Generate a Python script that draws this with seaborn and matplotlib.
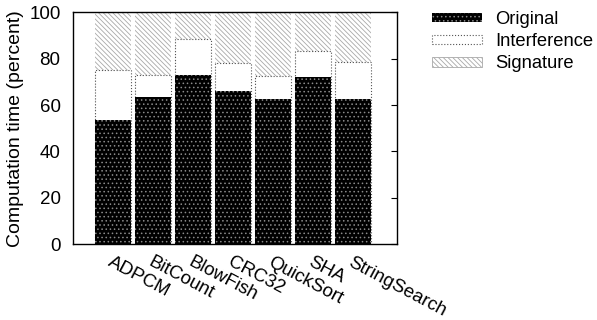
import matplotlib
matplotlib.use("Agg")
import matplotlib.pyplot as plt
import matplotlib.patches as mpatches
import pandas as pd
import seaborn as sns

# benchmark names and stacked shares (percent of computation time)
benchmarks = ["ADPCM", "BitCount", "BlowFish", "CRC32", "QuickSort", "SHA", "StringSearch"]
original = [53.6, 63.4, 73.1, 66.1, 62.5, 72.0, 62.5]
interference = [21.5, 9.7, 15.3, 12.0, 9.9, 11.2, 15.9]
signature = [24.9, 26.9, 11.6, 21.9, 27.6, 16.8, 21.6]

df = pd.DataFrame({
    "bench": benchmarks,
    "Original": original,
    "Interference": interference,
    "Signature": signature,
})
df["orig_top"] = df["Original"]
df["interf_top"] = df["Original"] + df["Interference"]
df["sig_top"] = df["interf_top"] + df["Signature"]

sns.set_style("white")
plt.rcParams["font.family"] = ["Liberation Sans", "DejaVu Sans"]
plt.rcParams["hatch.linewidth"] = 0.6
for k in ["text.color", "axes.labelcolor", "xtick.color", "ytick.color"]:
    plt.rcParams[k] = "black"

fig = plt.figure(figsize=(5.97, 3.2), dpi=100)
ax = fig.add_axes([0.1223, 0.2366, 0.5427, 0.725])

bw = 0.9
orig_hatch = "...."
sig_hatch = "\\\\\\\\\\\\\\"
# draw from the tallest layer down so each one covers the previous
sns.barplot(data=df, x="bench", y="sig_top", color="white", saturation=1,
            width=bw, hatch=sig_hatch, edgecolor="#a8a8a8", linewidth=0.0, ax=ax)
sns.barplot(data=df, x="bench", y="interf_top", color="white", saturation=1,
            width=bw, edgecolor="#555555", linewidth=0.8, linestyle=":", ax=ax)
sns.barplot(data=df, x="bench", y="orig_top", color="black", saturation=1,
            width=bw, hatch=orig_hatch, edgecolor="#8a8a8a", linewidth=0.0, ax=ax)

ax.set_xlim(-1.0, 7.09)
ax.set_ylim(0, 100)
ax.set_yticks([0, 20, 40, 60, 80, 100])
ax.tick_params(axis="y", direction="in", length=4, right=True, labelsize=13.5, pad=9)
ax.tick_params(axis="x", direction="in", length=0, labelsize=13.5, pad=7)
ax.set_xticks(range(len(benchmarks)))
ax.set_xticklabels(benchmarks, rotation=-28, ha="left", rotation_mode="anchor")
ax.set_xlabel("")
ax.set_ylabel("Computation time (percent)", fontsize=14, labelpad=4)
for s in ax.spines.values():
    s.set_color("black")
    s.set_linewidth(1.0)

handles = [
    mpatches.Patch(facecolor="black", edgecolor="#8a8a8a", hatch=orig_hatch, linewidth=0, label="Original"),
    mpatches.Patch(facecolor="white", edgecolor="#555555", linestyle=":", linewidth=0.8, label="Interference"),
    mpatches.Patch(facecolor="white", edgecolor="#a8a8a8", hatch=sig_hatch, linewidth=0.6, label="Signature"),
]
fig.legend(handles=handles, loc="upper left", bbox_to_anchor=(0.7236, 0.965),
           frameon=False, fontsize=13.2, handlelength=2.75, handleheight=0.4,
           labelspacing=0.28, handletextpad=0.7, borderpad=0, borderaxespad=0)

fig.savefig("out.png", dpi=100)
